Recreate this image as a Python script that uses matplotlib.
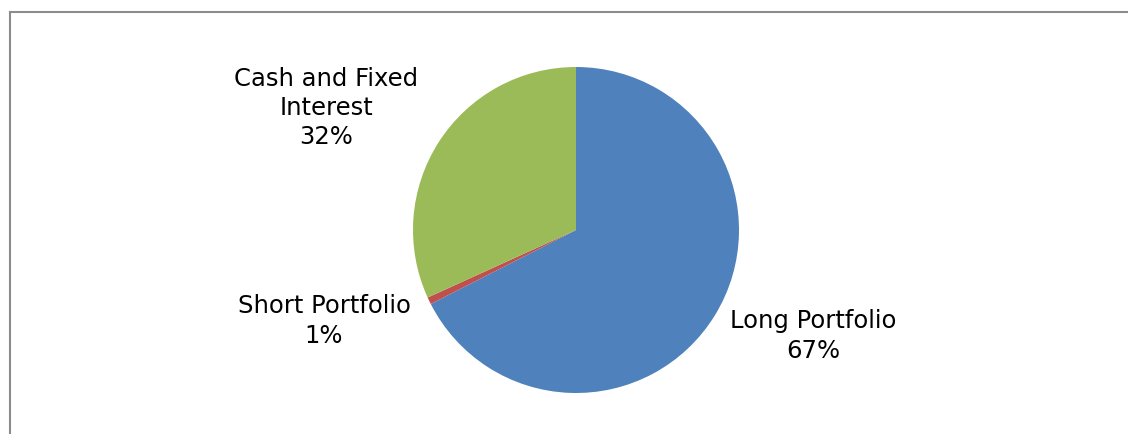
import matplotlib
matplotlib.use("Agg")
import matplotlib.pyplot as plt
from matplotlib.lines import Line2D

# slice shares (percent), clockwise from 12 o'clock
categories = ["Long Portfolio", "Short Portfolio", "Cash and Fixed\nInterest"]
shares = [67.5, 0.7, 31.8]
shown_pct = ["67%", "1%", "32%"]

COLORS = ["#4f81bd", "#c0504d", "#9bbb59"]
FRAME = "#8c8c8c"

W, H, DPI = 1128, 434, 100
CX, CY, R = 576, 230, 163  # pie centre / radius in pixels

fig = plt.figure(figsize=(W / DPI, H / DPI), dpi=DPI)
fig.patch.set_facecolor("white")
ax = fig.add_axes([0, 0, 1, 1])
ax.axis("off")

ax.pie(shares, colors=COLORS, startangle=90, counterclock=False,
       radius=1.0, center=(0, 0), frame=False,
       wedgeprops=dict(linewidth=0))
ax.set_xlim(-CX / R, (W - CX) / R)
ax.set_ylim((CY - H) / R, CY / R)
ax.set_aspect("auto")

# label anchors (pixels)
label_pos = [(813, 336), (324, 321), (326, 108)]
for name, pct, (px, py) in zip(categories, shown_pct, label_pos):
    ax.text((px - CX) / R, (CY - py) / R, f"{name}\n{pct}",
            ha="center", va="center", fontsize=17.5, color="#000000",
            linespacing=1.27, family="DejaVu Sans")

# grey chart-area frame, open to the right/bottom edge
fig.add_artist(Line2D([9.5 / W, 9.5 / W], [0, 1 - 11.5 / H],
                      transform=fig.transFigure, color=FRAME, linewidth=1.5))
fig.add_artist(Line2D([9.5 / W, 1], [1 - 11.5 / H, 1 - 11.5 / H],
                      transform=fig.transFigure, color=FRAME, linewidth=1.5))

fig.savefig("out.png", dpi=DPI, facecolor="white")
